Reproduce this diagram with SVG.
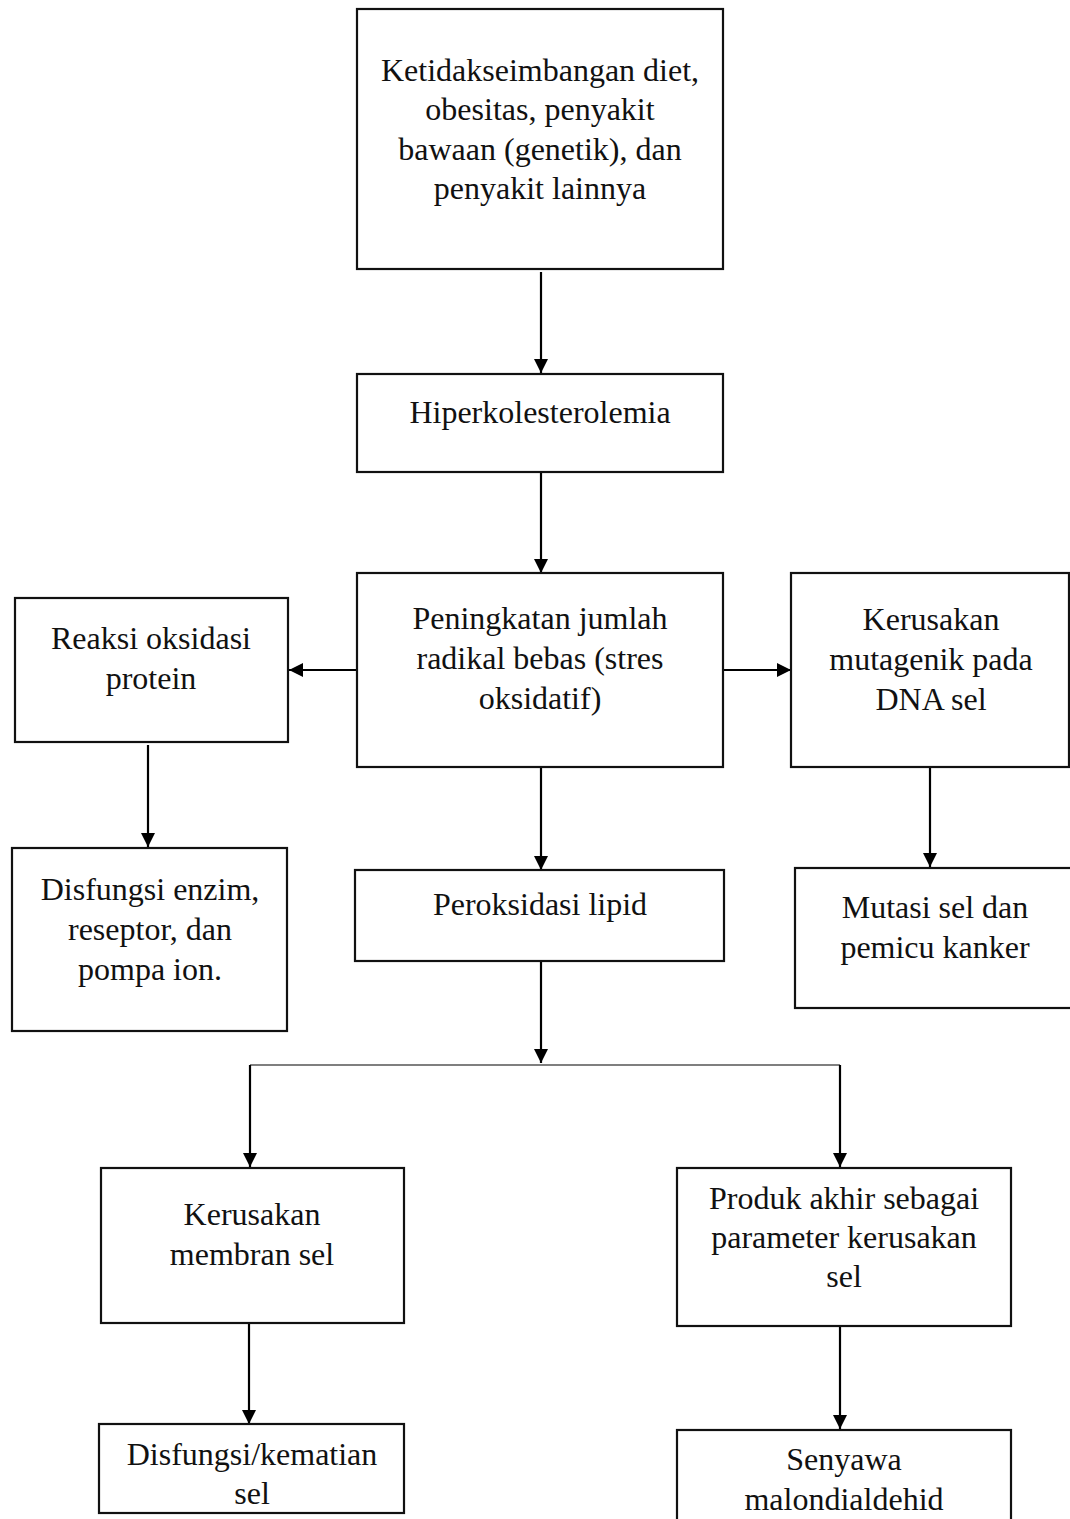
<svg xmlns="http://www.w3.org/2000/svg" width="1070" height="1519" viewBox="0 0 1070 1519">
<style>
.box{fill:#fff;stroke:#111;stroke-width:2.2}
.t{font-family:"Liberation Serif","Times New Roman",serif;font-size:32px;fill:#111;text-anchor:middle}
.c{stroke:#000;stroke-width:2.2;fill:none}
.h{stroke:#555;stroke-width:1.5;fill:none}
</style>
<defs>
<marker id="ah" markerUnits="userSpaceOnUse" markerWidth="14" markerHeight="14" viewBox="0 0 14 14" refX="14" refY="7" orient="auto">
<path d="M0,0 L14,7 L0,14 Z" fill="#000"/>
</marker>
</defs>
<rect width="1070" height="1519" fill="#fff"/>
<g id="connectors">
<line class="c" x1="541" y1="272" x2="541" y2="373" marker-end="url(#ah)"/>
<line class="c" x1="541" y1="473" x2="541" y2="573" marker-end="url(#ah)"/>
<line class="c" x1="357" y1="670" x2="289" y2="670" marker-end="url(#ah)"/>
<line class="c" x1="723" y1="670" x2="791" y2="670" marker-end="url(#ah)"/>
<line class="c" x1="148" y1="745" x2="148" y2="847" marker-end="url(#ah)"/>
<line class="c" x1="541" y1="768" x2="541" y2="870" marker-end="url(#ah)"/>
<line class="c" x1="930" y1="768" x2="930" y2="867" marker-end="url(#ah)"/>
<line class="c" x1="541" y1="961" x2="541" y2="1063" marker-end="url(#ah)"/>
<line class="h" x1="250" y1="1065" x2="840" y2="1065"/>
<line class="c" x1="250" y1="1065" x2="250" y2="1167" marker-end="url(#ah)"/>
<line class="c" x1="840" y1="1065" x2="840" y2="1167" marker-end="url(#ah)"/>
<line class="c" x1="249" y1="1324" x2="249" y2="1424" marker-end="url(#ah)"/>
<line class="c" x1="840" y1="1327" x2="840" y2="1429" marker-end="url(#ah)"/>
</g>
<g id="n1"><rect class="box" x="357" y="9" width="366" height="260"/>
<text class="t" x="540"><tspan x="540" y="81">Ketidakseimbangan diet,</tspan><tspan x="540" y="120">obesitas, penyakit</tspan><tspan x="540" y="160">bawaan (genetik), dan</tspan><tspan x="540" y="199">penyakit lainnya</tspan></text></g>
<g id="n2"><rect class="box" x="357" y="374" width="366" height="98"/>
<text class="t" x="540" y="423">Hiperkolesterolemia</text></g>
<g id="n3"><rect class="box" x="357" y="573" width="366" height="194"/>
<text class="t"><tspan x="540" y="629">Peningkatan jumlah</tspan><tspan x="540" y="669">radikal bebas (stres</tspan><tspan x="540" y="709">oksidatif)</tspan></text></g>
<g id="n4"><rect class="box" x="15" y="598" width="273" height="144"/>
<text class="t"><tspan x="151" y="649">Reaksi oksidasi</tspan><tspan x="151" y="689">protein</tspan></text></g>
<g id="n5"><rect class="box" x="791" y="573" width="278" height="194"/>
<text class="t"><tspan x="931" y="630">Kerusakan</tspan><tspan x="931" y="670">mutagenik pada</tspan><tspan x="931" y="710">DNA sel</tspan></text></g>
<g id="n6"><rect class="box" x="12" y="848" width="275" height="183"/>
<text class="t"><tspan x="150" y="900">Disfungsi enzim,</tspan><tspan x="150" y="940">reseptor, dan</tspan><tspan x="150" y="980">pompa ion.</tspan></text></g>
<g id="n7"><rect class="box" x="355" y="870" width="369" height="91"/>
<text class="t" x="540" y="915">Peroksidasi lipid</text></g>
<g id="n8"><rect class="box" x="795" y="868" width="280" height="140"/>
<text class="t"><tspan x="935" y="918">Mutasi sel dan</tspan><tspan x="935" y="958">pemicu kanker</tspan></text></g>
<g id="n9"><rect class="box" x="101" y="1168" width="303" height="155"/>
<text class="t"><tspan x="252" y="1225">Kerusakan</tspan><tspan x="252" y="1265">membran sel</tspan></text></g>
<g id="n10"><rect class="box" x="677" y="1168" width="334" height="158"/>
<text class="t"><tspan x="844" y="1209">Produk akhir sebagai</tspan><tspan x="844" y="1248">parameter kerusakan</tspan><tspan x="844" y="1287">sel</tspan></text></g>
<g id="n11"><rect class="box" x="99" y="1424" width="305" height="89"/>
<text class="t"><tspan x="252" y="1465">Disfungsi/kematian</tspan><tspan x="252" y="1504">sel</tspan></text></g>
<g id="n12"><rect class="box" x="677" y="1430" width="334" height="110"/>
<text class="t"><tspan x="844" y="1470">Senyawa</tspan><tspan x="844" y="1510">malondialdehid</tspan></text></g>
</svg>
